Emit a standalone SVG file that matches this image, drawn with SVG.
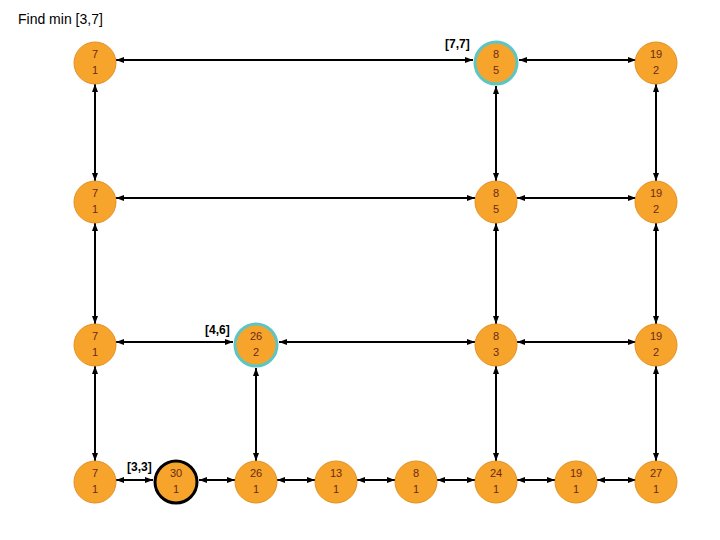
<svg xmlns="http://www.w3.org/2000/svg" width="720" height="540" viewBox="0 0 720 540">
<style>
.node circle{fill:#F6A42C;stroke:#E39124;stroke-width:1}
.node circle.hl{stroke:#5CC6C4;stroke-width:3}
.node circle.cur{stroke:#000;stroke-width:3}
.node text{font-family:"Liberation Sans",Arial,sans-serif;font-size:11px;fill:#6B2A12;text-anchor:middle}
.edges line{stroke:#000;stroke-width:2;marker-start:url(#ah);marker-end:url(#ah)}
.lbl{font-family:"Liberation Sans",Arial,sans-serif;font-size:12px;font-weight:bold;fill:#000}
.title{font-family:"Liberation Sans",Arial,sans-serif;font-size:14px;fill:#000}
</style>
<defs>
<marker id="ah" viewBox="0 0 8 6" refX="8" refY="3" markerWidth="8" markerHeight="6" markerUnits="userSpaceOnUse" orient="auto-start-reverse">
<path d="M0,0 L8,3 L0,6 z" fill="#000"/>
</marker>
</defs>
<rect width="720" height="540" fill="#fff"/>
<text class="title" x="18" y="24">Find min [3,7]</text>
<g class="edges">
<line x1="116" y1="60" x2="473" y2="60"/>
<line x1="519" y1="60" x2="636" y2="60"/>
<line x1="116" y1="198" x2="475" y2="198"/>
<line x1="517" y1="198" x2="636" y2="198"/>
<line x1="116" y1="342" x2="233" y2="342"/>
<line x1="279" y1="342" x2="475" y2="342"/>
<line x1="517" y1="342" x2="636" y2="342"/>
<line x1="116" y1="480" x2="153" y2="480"/>
<line x1="199" y1="480" x2="235" y2="480"/>
<line x1="277" y1="480" x2="315" y2="480"/>
<line x1="357" y1="480" x2="395" y2="480"/>
<line x1="437" y1="480" x2="475" y2="480"/>
<line x1="517" y1="480" x2="555" y2="480"/>
<line x1="597" y1="480" x2="636" y2="480"/>
<line x1="95" y1="84" x2="95" y2="181"/>
<line x1="95" y1="223" x2="95" y2="324"/>
<line x1="95" y1="366" x2="95" y2="461"/>
<line x1="496" y1="86" x2="496" y2="181"/>
<line x1="496" y1="223" x2="496" y2="324"/>
<line x1="496" y1="366" x2="496" y2="461"/>
<line x1="656" y1="84" x2="656" y2="181"/>
<line x1="656" y1="223" x2="656" y2="324"/>
<line x1="656" y1="366" x2="656" y2="461"/>
<line x1="256" y1="368" x2="256" y2="461"/>
</g>
<g id="n-r1c0" class="node"><circle cx="95" cy="63" r="21"/><text x="95" y="58">7</text><text x="95" y="74">1</text></g>
<g id="n-r1c5" class="node"><circle class="hl" cx="496" cy="63" r="21"/><text x="496" y="58">8</text><text x="496" y="74">5</text></g>
<g id="n-r1c7" class="node"><circle cx="656" cy="63" r="21"/><text x="656" y="58">19</text><text x="656" y="74">2</text></g>
<g id="n-r2c0" class="node"><circle cx="95" cy="202" r="21"/><text x="95" y="197">7</text><text x="95" y="213">1</text></g>
<g id="n-r2c5" class="node"><circle cx="496" cy="202" r="21"/><text x="496" y="197">8</text><text x="496" y="213">5</text></g>
<g id="n-r2c7" class="node"><circle cx="656" cy="202" r="21"/><text x="656" y="197">19</text><text x="656" y="213">2</text></g>
<g id="n-r3c0" class="node"><circle cx="95" cy="345" r="21"/><text x="95" y="340">7</text><text x="95" y="356">1</text></g>
<g id="n-r3c2" class="node"><circle class="hl" cx="256" cy="345" r="21"/><text x="256" y="340">26</text><text x="256" y="356">2</text></g>
<g id="n-r3c5" class="node"><circle cx="496" cy="345" r="21"/><text x="496" y="340">8</text><text x="496" y="356">3</text></g>
<g id="n-r3c7" class="node"><circle cx="656" cy="345" r="21"/><text x="656" y="340">19</text><text x="656" y="356">2</text></g>
<g id="n-r4c0" class="node"><circle cx="95" cy="482" r="21"/><text x="95" y="477">7</text><text x="95" y="493">1</text></g>
<g id="n-r4c1" class="node"><circle class="cur" cx="176" cy="482" r="21"/><text x="176" y="477">30</text><text x="176" y="493">1</text></g>
<g id="n-r4c2" class="node"><circle cx="256" cy="482" r="21"/><text x="256" y="477">26</text><text x="256" y="493">1</text></g>
<g id="n-r4c3" class="node"><circle cx="336" cy="482" r="21"/><text x="336" y="477">13</text><text x="336" y="493">1</text></g>
<g id="n-r4c4" class="node"><circle cx="416" cy="482" r="21"/><text x="416" y="477">8</text><text x="416" y="493">1</text></g>
<g id="n-r4c5" class="node"><circle cx="496" cy="482" r="21"/><text x="496" y="477">24</text><text x="496" y="493">1</text></g>
<g id="n-r4c6" class="node"><circle cx="576" cy="482" r="21"/><text x="576" y="477">19</text><text x="576" y="493">1</text></g>
<g id="n-r4c7" class="node"><circle cx="656" cy="482" r="21"/><text x="656" y="477">27</text><text x="656" y="493">1</text></g>
<text class="lbl" x="445" y="48">[7,7]</text>
<text class="lbl" x="205" y="334">[4,6]</text>
<text class="lbl" x="127" y="471">[3,3]</text>
</svg>
